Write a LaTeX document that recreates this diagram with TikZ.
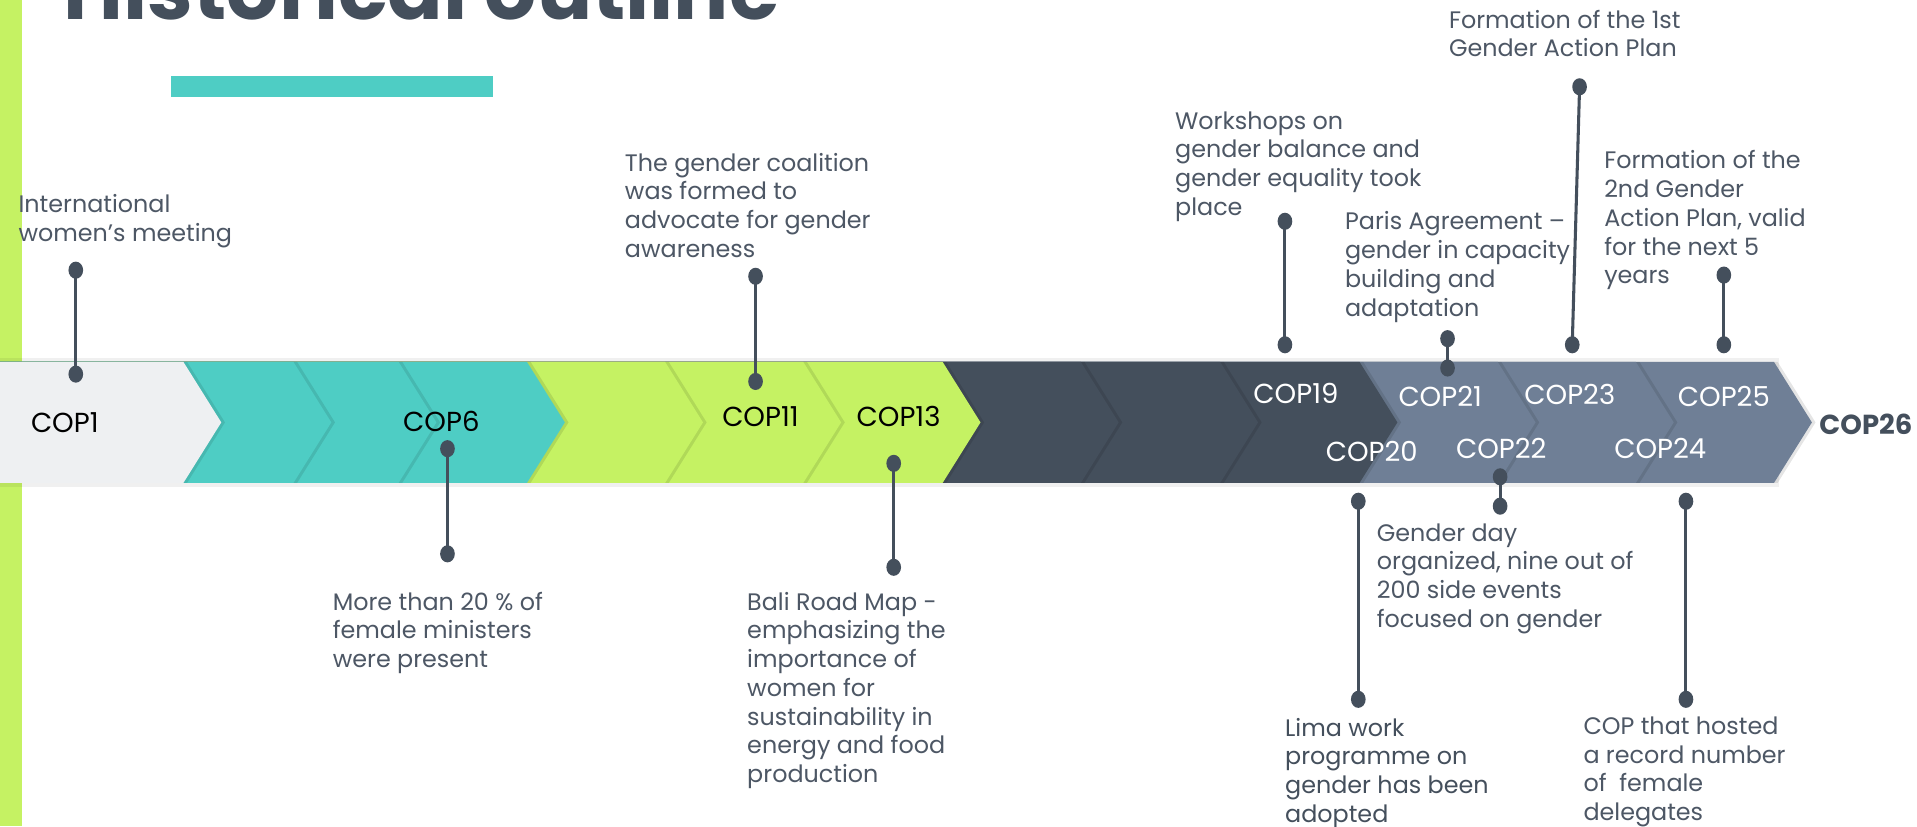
\documentclass[tikz,border=0pt]{standalone}
\usepackage{fontspec}
\setmainfont{Poppins}
\usetikzlibrary{shapes.geometric}
\definecolor{darkc}{HTML}{444F5C}
\definecolor{slatec}{HTML}{6F7F96}
\definecolor{tealc}{HTML}{4ECDC4}
\definecolor{limec}{HTML}{C5F263}
\definecolor{greyc}{HTML}{EEF0F2}
\definecolor{txtc}{HTML}{4D5765}
\tikzset{
  desc/.style={font=\fontsize{19.5}{23.5}\selectfont, align=left, inner sep=0pt, text=txtc, anchor=north west},
  coplbl/.style={font=\fontsize{22.5}{24}\selectfont, inner sep=0pt},
  dot/.style={ellipse, fill=darkc, minimum width=12pt, minimum height=14pt, inner sep=0pt},
  conn/.style={draw=darkc, line width=2.5pt},
  titletxt/.style={font=\fontsize{67}{67}\selectfont\bfseries, text=darkc, inner sep=0pt, anchor=base west}
}
\begin{document}
\begin{tikzpicture}[x=1pt,y=-1pt]
\useasboundingbox (0,0) rectangle (1568,676);
\clip (0,0) rectangle (1568,676);
\fill[white] (0,0) rectangle (1568,676);
\fill[limec] (0,0) rectangle (18,676);
\node[titletxt] (title) at (52,16) {Historical outline};
\fill[tealc] (140,62) rectangle (403,79);
% band shadow
\fill[black, opacity=0.06] (0,293) rectangle (1455,398);
% chevrons, right to left
\foreach \tip/\col in {1482/slatec,1369/slatec,1256/slatec,1143/darkc,1029/darkc,915/darkc,802/limec,688/limec,575/limec,462/tealc,357/tealc,271/tealc,181/greyc}{
  \fill[black, opacity=0.10] (0,296) -- (\tip-28,296) -- (\tip+3,345.5) -- (\tip-28,395) -- (0,395) -- cycle;
  \fill[\col] (0,296) -- (\tip-31,296) -- (\tip,345.5) -- (\tip-31,395) -- (0,395) -- cycle;
}
% COP labels
\node[coplbl, text=black] (cop1) at (53,346) {COP1};
\node[coplbl, text=black] (cop6) at (361,345) {COP6};
\node[coplbl, text=black] (cop11) at (622,341) {COP11};
\node[coplbl, text=black] (cop13) at (735,341) {COP13};
\node[coplbl, text=white] (cop19) at (1060,322) {COP19};
\node[coplbl, text=white] (cop20) at (1122,369) {COP20};
\node[coplbl, text=white] (cop21) at (1178,324) {COP21};
\node[coplbl, text=white] (cop22) at (1228,367) {COP22};
\node[coplbl, text=white] (cop23) at (1284,323) {COP23};
\node[coplbl, text=white] (cop24) at (1358,367) {COP24};
\node[coplbl, text=white] (cop25) at (1410,324) {COP25};
\node[coplbl, text=darkc, font=\fontsize{22.5}{24}\selectfont\bfseries, anchor=west] (cop26) at (1488,347) {COP26};
% descriptions
\node[desc] (t1) at (15,159) {International\\women{\char"27}s meeting};
\node[desc] (t6) at (272,484) {More than 20 \% of\\female ministers\\were present};
\node[desc] (t11) at (511,125) {The gender coalition\\was formed to\\advocate for gender\\awareness};
\node[desc] (t13) at (611,484) {Bali Road Map -\\emphasizing the\\importance of\\women for\\sustainability in\\energy and food\\production};
\node[desc] (t19) at (961,91) {Workshops on\\gender balance and\\gender equality took\\place};
\node[desc, text=darkc] (t20) at (1051,587) {Lima work\\programme on\\gender has been\\adopted};
\node[desc] (t21) at (1100,173) {Paris Agreement –\\gender in capacity\\building and\\adaptation};
\node[desc] (t22) at (1126,428) {Gender day\\organized, nine out of\\200 side events\\focused on gender};
\node[desc] (t23) at (1185,8) {Formation of the 1st\\Gender Action Plan};
\node[desc] (t24) at (1295,586) {COP that hosted\\a record number\\of~ female\\delegates};
\node[desc] (t25) at (1312,123) {Formation of the\\2nd Gender\\Action Plan, valid\\for the next 5\\years};
% dots and connectors
\node[dot] (d1a) at (62,221) {};   \node[dot] (d1b) at (62,306) {};
\node[dot] (d6a) at (366,367) {};  \node[dot] (d6b) at (366,453) {};
\node[dot] (d11a) at (618,226) {}; \node[dot] (d11b) at (618,312) {};
\node[dot] (d13a) at (731,379) {}; \node[dot] (d13b) at (731,464) {};
\node[dot] (d19a) at (1051,181) {}; \node[dot] (d19b) at (1051,282) {};
\node[dot] (d20a) at (1111,410) {}; \node[dot] (d20b) at (1111,572) {};
\node[dot] (d21a) at (1184,277) {}; \node[dot] (d21b) at (1184,301) {};
\node[dot] (d22a) at (1227,390) {}; \node[dot] (d22b) at (1227,414) {};
\node[dot] (d23a) at (1292,71) {};  \node[dot] (d23b) at (1286,282) {};
\node[dot] (d24a) at (1379,410) {}; \node[dot] (d24b) at (1379,572) {};
\node[dot] (d25a) at (1410,225) {}; \node[dot] (d25b) at (1410,282) {};
\foreach \n in {1,6,11,13,19,20,21,22,23,24,25}{
  \draw[conn] (d\n a.center) -- (d\n b.center);
}
\end{tikzpicture}
\end{document}
